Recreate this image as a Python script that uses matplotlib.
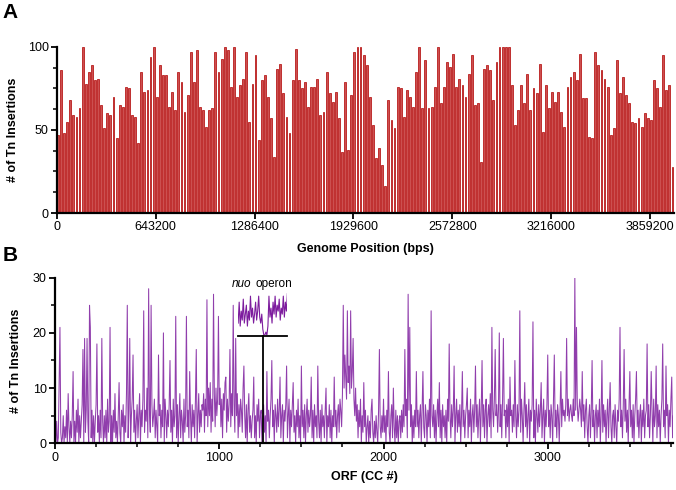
import numpy as np
import matplotlib.pyplot as plt

plt.rcParams['font.family'] = ['Liberation Sans', 'DejaVu Sans']

# panel A: Tn insertions per 20.1 kb bin
bin_size = 20100
tn_per_bin = [
    47, 86, 48, 55, 68, 59, 58, 63, 100, 78,
    85, 89, 80, 81, 65, 51, 60, 59, 70, 45,
    65, 64, 76, 75, 59, 58, 42, 85, 73, 74,
    94, 100, 70, 89, 83, 83, 64, 73, 62, 85,
    79, 61, 71, 97, 79, 98, 64, 62, 52, 62,
    63, 97, 85, 93, 100, 98, 76, 100, 70, 77,
    81, 97, 55, 78, 95, 44, 80, 83, 70, 57,
    34, 87, 90, 72, 58, 48, 80, 99, 80, 75,
    79, 64, 76, 76, 81, 59, 61, 85,
    72, 67, 73, 57, 37, 79, 38, 71, 97, 100,
    100, 95, 89, 70, 53, 33, 39, 29, 16, 68,
    56, 51, 76, 75, 58, 74, 70, 64, 85, 100,
    63, 92, 63, 64, 76, 100, 66, 76, 91, 88,
    96, 76, 81, 77, 70, 84, 95, 65, 66, 31,
    87, 89, 86, 68, 91, 100, 100, 100, 100, 77,
    53, 62, 77, 66, 84, 62, 75, 72, 90, 49,
    77, 63, 73, 67, 73, 61, 52, 76, 82, 85, 80,
    96, 69, 69, 46, 45, 97, 89, 86, 81, 76,
    47, 51, 92, 72, 82, 71, 66, 55, 54, 57,
    52, 60, 57, 56, 80, 75, 64, 95, 74, 77, 28,
]
genome_ticks = [0, 643200, 1286400, 1929600, 2572800, 3216000, 3859200]

# panel B: Tn insertions per ORF, read every 5th ORF (one row = 100 ORFs)
orf_step = 5
orf_counts = [
    3, 0, 4, 0, 1, 11, 21, 2, 0, 1, 5, 0, 3, 1, 6, 0, 9, 3, 0, 4,
    1, 5, 13, 0, 4, 0, 6, 2, 8, 0, 5, 1, 4, 7, 17, 0, 19, 2, 6, 19,
    4, 0, 25, 21, 1, 6, 0, 5, 0, 4, 7, 18, 2, 5, 0, 6, 1, 19, 4, 0,
    5, 1, 6, 0, 8, 2, 4, 21, 0, 5, 0, 6, 2, 9, 1, 4, 0, 5, 11, 2,
    0, 6, 3, 7, 0, 5, 2, 9, 25, 1, 6, 19, 0, 5, 8, 16, 2, 6, 0, 4,
    7, 1, 5, 9, 0, 6, 3, 8, 24, 2, 6, 4, 10, 1, 28, 6, 2, 25, 7, 3,
    5, 8, 1, 6, 3, 0, 16, 5, 7, 1, 6, 3, 20, 0, 8, 5, 1, 6, 3, 7,
    15, 2, 6, 0, 8, 3, 5, 23, 1, 7, 0, 5, 9, 1, 6, 4, 0, 8, 2, 5,
    23, 3, 6, 1, 13, 5, 0, 7, 3, 6, 1, 8, 17, 0, 5, 9, 2, 6, 3, 7,
    6, 9, 2, 8, 5, 26, 3, 10, 5, 11, 2, 8, 4, 27, 9, 3, 10, 5, 8, 23,
    7, 10, 3, 8, 1, 9, 6, 11, 12, 2, 8, 4, 7, 17, 3, 9, 5, 25, 7, 2,
    19, 5, 9, 1, 7, 3, 8, 6, 2, 10, 14, 5, 1, 7, 0, 6, 9, 2, 5, 1,
    4, 6, 12, 1, 5, 0, 7, 4, 8, 1, 5, 6, 0, 4, 7, 2, 5, 0, 13, 4,
    6, 1, 5, 8, 15, 3, 6, 0, 7, 5, 2, 8, 3, 6, 12, 1, 5, 7, 0, 6,
    4, 7, 14, 1, 5, 8, 0, 6, 3, 7, 11, 2, 5, 0, 6, 3, 8, 1, 5, 0,
    14, 3, 6, 1, 7, 0, 5, 8, 2, 6, 3, 5, 12, 1, 6, 0, 7, 3, 5, 1,
    14, 4, 1, 6, 0, 7, 3, 5, 1, 6, 10, 0, 5, 3, 7, 1, 6, 0, 5, 3,
    12, 3, 6, 1, 5, 7, 2, 8, 6, 3, 9, 25, 10, 16, 12, 8, 24, 11, 14, 9,
    24, 10, 13, 19, 8, 5, 10, 4, 7, 1, 6, 3, 8, 0, 5, 2, 11, 3, 6, 0,
    3, 5, 0, 4, 1, 6, 8, 2, 0, 4, 1, 5, 2, 0, 6, 17, 3, 1, 5, 2,
    8, 2, 5, 0, 6, 3, 13, 2, 0, 5, 7, 1, 10, 3, 0, 6, 1, 5, 0, 4,
    5, 1, 6, 2, 7, 3, 17, 5, 8, 1, 27, 6, 21, 3, 7, 0, 5, 1, 6, 3,
    13, 3, 6, 1, 5, 7, 0, 6, 13, 3, 1, 7, 5, 0, 6, 3, 8, 1, 24, 5,
    3, 7, 1, 6, 0, 5, 8, 3, 11, 1, 6, 0, 7, 3, 5, 1, 6, 0, 8, 4,
    18, 5, 1, 7, 3, 6, 14, 0, 5, 8, 2, 6, 3, 7, 0, 5, 13, 3, 6, 1,
    5, 7, 10, 1, 6, 3, 8, 0, 5, 7, 2, 6, 14, 3, 7, 1, 5, 8, 0, 6,
    15, 3, 7, 1, 6, 8, 0, 5, 7, 3, 9, 1, 21, 6, 3, 8, 17, 5, 7, 2,
    6, 20, 3, 7, 1, 8, 19, 5, 6, 1, 7, 3, 8, 0, 12, 5, 6, 2, 7, 3,
    15, 5, 1, 7, 3, 6, 24, 2, 8, 5, 0, 6, 11, 3, 7, 1, 5, 8, 0, 6,
    4, 7, 22, 1, 6, 0, 8, 5, 2, 7, 3, 6, 11, 1, 5, 8, 0, 6, 3, 7,
    16, 3, 6, 1, 7, 5, 0, 8, 16, 3, 6, 1, 7, 5, 0, 6, 13, 3, 8, 5,
    6, 4, 7, 19, 5, 8, 4, 6, 7, 5, 4, 8, 5, 30, 6, 21, 7, 4, 6, 8,
    6, 3, 13, 4, 7, 1, 6, 8, 3, 0, 5, 7, 1, 6, 15, 3, 6, 0, 5, 7,
    1, 6, 3, 8, 0, 5, 15, 2, 7, 3, 6, 0, 5, 8, 1, 6, 11, 3, 0, 5,
    6, 1, 7, 3, 0, 6, 4, 8, 21, 3, 6, 1, 7, 17, 4, 8, 2, 6, 0, 7,
    13, 3, 6, 1, 7, 0, 5, 8, 13, 3, 6, 1, 5, 7, 0, 6, 3, 8, 1, 5,
    6, 18, 3, 7, 1, 5, 13, 6, 0, 8, 3, 5, 14, 1, 7, 3, 6, 0, 5, 8,
    18, 3, 6, 1, 14, 5, 7, 0, 6, 3, 8, 12, 1, 5,
]
orf_ticks = [0, 1000, 2000, 3000]

# magnified nuo operon profile shown above the main trace
nuo_profile = [4, 11, 3, 8, 5, 12, 4, 7, 10, 3, 8, 5, 13, 6, 9, 4, 7, 11, 5, 8,
               13, 6, 4, 7, 2, 0, 0, 1, 0, 3, 13, 6, 9, 4, 11, 7, 13, 6, 10, 8,
               12, 5, 9, 7, 13, 6, 11, 8, 14]
nuo_orf = 1268


def style_axis(ax):
    for s in ['top', 'right']:
        ax.spines[s].set_visible(False)
    for s in ['left', 'bottom']:
        ax.spines[s].set_linewidth(1.6)
    ax.tick_params(which='major', direction='out', length=4, width=1.3, labelsize=9, pad=2)
    ax.tick_params(which='minor', direction='out', length=3, width=1.1)


fig = plt.figure(figsize=(6.76, 4.90), dpi=100)

# ---- A
axA = fig.add_axes([0.0843, 0.5653, 0.913, 0.3388])
pos = np.arange(len(tn_per_bin)) * bin_size
axA.bar(pos, tn_per_bin, width=12000, align='edge', color='#cc5050',
        edgecolor='#b00000', linewidth=0.5)
axA.set_xlim(0, 4017000)
axA.set_ylim(0, 100)
axA.set_xticks(genome_ticks)
axA.set_xticklabels([str(t) for t in genome_ticks])
axA.set_yticks([0, 50, 100])
axA.set_yticks(np.arange(0, 101, 12.5), minor=True)
style_axis(axA)
axA.set_xlabel('Genome Position (bps)', fontsize=9, fontweight='bold', labelpad=7)
axA.set_ylabel('# of Tn Insertions', fontsize=9, fontweight='bold', labelpad=6)
fig.text(0.004, 0.993, 'A', fontsize=15, fontweight='bold', va='top')

# ---- B
axB = fig.add_axes([0.0814, 0.0953, 0.914, 0.338])
orfs = np.arange(len(orf_counts)) * orf_step
axB.plot(orfs, orf_counts, color='#7d1c9e', linewidth=0.75, alpha=0.85)
axB.set_xlim(0, 3762)
axB.set_ylim(0, 30)
axB.set_xticks(orf_ticks)
axB.set_xticks(np.arange(0, 3761, 250), minor=True)
axB.set_yticks([0, 10, 20, 30])
axB.set_yticks(np.arange(0, 31, 5), minor=True)
style_axis(axB)
axB.set_xlabel('ORF (CC #)', fontsize=9, fontweight='bold', labelpad=5)
axB.set_ylabel('# of Tn Insertions', fontsize=9, fontweight='bold', labelpad=8)
fig.text(0.004, 0.497, 'B', fontsize=15, fontweight='bold', va='top')

# nuo operon call-out
axB.plot([1115, 1415], [19.4, 19.4], color='black', linewidth=1.3)
axB.plot([nuo_orf, nuo_orf], [0, 19.4], color='black', linewidth=1.3)
ins = axB.inset_axes([1115, 19.6, 300, 7.6], transform=axB.transData)
ins.plot(np.arange(len(nuo_profile)), nuo_profile, color='#7d1c9e', linewidth=0.8)
ins.set_xlim(0, len(nuo_profile) - 1)
ins.set_ylim(0, 14)
ins.axis('off')
axB.text(1192, 28.8, 'nuo', fontsize=8.5, style='italic', ha='right', va='center')
axB.text(1220, 28.8, 'operon', fontsize=8.5, ha='left', va='center')

fig.savefig('out.png', dpi=100)
